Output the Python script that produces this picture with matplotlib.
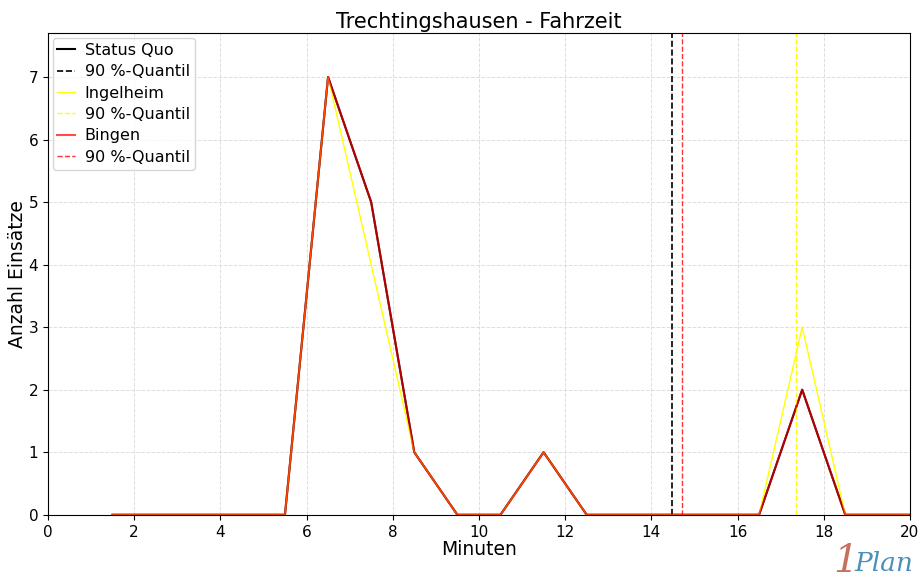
import matplotlib
matplotlib.use("Agg")
import matplotlib.pyplot as plt
import numpy as np

minutes = [1.5, 2.5, 3.5, 4.5, 5.5, 6.5, 7.5, 8.5, 9.5, 10.5, 11.5, 12.5, 13.5, 14.5, 15.5, 16.5, 17.5, 18.5, 19.5, 20.5]
status_quo = [0, 0, 0, 0, 0, 7, 5, 1, 0, 0, 1, 0, 0, 0, 0, 0, 2, 0, 0, 0]
ingelheim = [0, 0, 0, 0, 0, 7, 4, 1, 0, 0, 1, 0, 0, 0, 0, 0, 3, 0, 0, 0]
bingen = [0, 0, 0, 0, 0, 7, 5, 1, 0, 0, 1, 0, 0, 0, 0, 0, 2, 0, 0, 0]
q90_status_quo = 14.48
q90_ingelheim = 17.35
q90_bingen = 14.7

fig = plt.figure(figsize=(9.21, 5.83), dpi=100)
ax = fig.add_axes([0.052, 0.117, 0.936, 0.826])

ax.plot(minutes, status_quo, color="black", lw=1.5, label="Status Quo")
ax.axvline(q90_status_quo, color="black", ls="--", lw=1.2, label="90 %-Quantil")
ax.plot(minutes, ingelheim, color="yellow", lw=1.0, label="Ingelheim")
ax.axvline(q90_ingelheim, color="yellow", ls="--", lw=1.0, label="90 %-Quantil")
ax.plot(minutes, bingen, color="red", lw=1.5, alpha=0.7, label="Bingen")
ax.axvline(q90_bingen, color="red", ls="--", lw=1.0, alpha=0.8, label="90 %-Quantil")

ax.set_xlim(0, 20)
ax.set_ylim(0, 7.7)
ax.set_xticks(np.arange(0, 21, 2))
ax.set_yticks(np.arange(0, 8, 1))
ax.tick_params(labelsize=11)
ax.grid(True, color="#dddddd", ls="--", lw=0.7)
ax.set_axisbelow(True)
ax.set_title("Trechtingshausen - Fahrzeit", fontsize=15, pad=4)
ax.set_xlabel("Minuten", fontsize=13.5, labelpad=0)
ax.set_ylabel("Anzahl Einsätze", fontsize=13.5, labelpad=1)
ax.legend(loc="upper left", fontsize=11.5, handlelength=1.1, borderaxespad=0.3,
          labelspacing=0.4, handletextpad=0.6, borderpad=0.3)

fig.text(0.905, 0.005, "1", color="#c87060", fontsize=28, family="DejaVu Serif",
         style="italic", ha="left", va="bottom")
fig.text(0.928, 0.012, "Plan", color="#4a90b8", fontsize=19, style="italic",
         family="DejaVu Serif", ha="left", va="bottom")

fig.savefig("out.png", dpi=100)
